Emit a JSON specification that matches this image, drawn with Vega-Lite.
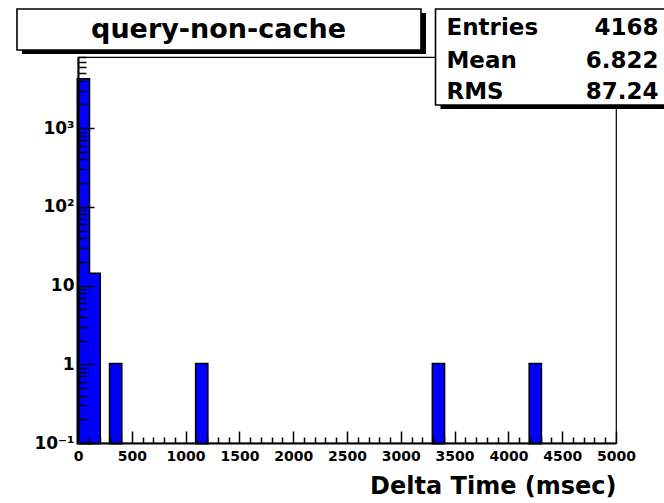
{
  "$schema": "https://vega.github.io/schema/vega-lite/v6.json",
  "width": 538,
  "height": 386,
  "autosize": {"type": "none"},
  "padding": {"left": 78, "top": 57, "right": 48, "bottom": 60},
  "background": "white",
  "config": {
    "view": {"stroke": "black", "strokeWidth": 1.2},
    "font": "DejaVu Sans",
    "text": {"font": "DejaVu Sans", "fontWeight": "bold", "color": "black"}
  },
  "datasets": {
    "bins": [
      {"lo": 0, "hi": 100, "count": 4150},
      {"lo": 100, "hi": 200, "count": 14},
      {"lo": 300, "hi": 400, "count": 1},
      {"lo": 1100, "hi": 1200, "count": 1},
      {"lo": 3300, "hi": 3400, "count": 1},
      {"lo": 4200, "hi": 4300, "count": 1}
    ],
    "pave": [{"title": "query-non-cache"}],
    "stats": [
      {"stat": "Entries", "value": "4168"},
      {"stat": "Mean", "value": "6.822"},
      {"stat": "RMS", "value": "87.24"}
    ]
  },
  "layer": [
    {
      "data": {"name": "bins"},
      "encoding": {
        "x": {
          "field": "lo",
          "type": "quantitative",
          "scale": {"domain": [0, 5000], "nice": false, "zero": false},
          "axis": {
            "values": [0,100,200,300,400,500,600,700,800,900,1000,1100,1200,1300,1400,1500,1600,1700,1800,1900,2000,2100,2200,2300,2400,2500,2600,2700,2800,2900,3000,3100,3200,3300,3400,3500,3600,3700,3800,3900,4000,4100,4200,4300,4400,4500,4600,4700,4800,4900,5000],
            "format": "d",
            "labelExpr": "datum.value % 500 == 0 ? datum.label : ''",
            "tickSize": {"condition": {"test": "datum.value % 500 == 0", "value": -12}, "value": -6},
            "tickColor": "black",
            "tickWidth": 1.5,
            "domainColor": "black",
            "domainWidth": 2,
            "grid": false,
            "labelFont": "DejaVu Sans",
            "labelFontWeight": "bold",
            "labelFontSize": 14,
            "labelColor": "black",
            "labelPadding": 18,
            "labelFlush": false,
            "labelOverlap": false,
            "title": "Delta Time (msec)",
            "titleFont": "DejaVu Sans",
            "titleFontWeight": "bold",
            "titleFontSize": 24,
            "titleColor": "black",
            "titleAnchor": "end",
            "titleAlign": "right",
            "titlePadding": 5,
            "zindex": 1
          }
        },
        "x2": {"field": "hi"},
        "y": {
          "field": "count",
          "type": "quantitative",
          "scale": {"type": "log", "domain": [0.1, 8000], "nice": false},
          "axis": {
            "values": [0.1,0.2,0.3,0.4,0.5,0.6,0.7,0.8,0.9,1,2,3,4,5,6,7,8,9,10,20,30,40,50,60,70,80,90,100,200,300,400,500,600,700,800,900,1000,2000,3000,4000,5000,6000,7000,8000],
            "labelExpr": "datum.value == 1000 ? '10³' : datum.value == 100 ? '10²' : datum.value == 10 ? '10' : datum.value == 1 ? '1' : datum.value == 0.1 ? '10⁻¹' : ''",
            "tickSize": {"condition": {"test": "datum.value == 0.1 || datum.value == 1 || datum.value == 10 || datum.value == 100 || datum.value == 1000", "value": -16}, "value": -8},
            "tickColor": "black",
            "tickWidth": 1.5,
            "domainColor": "black",
            "domainWidth": 2,
            "grid": false,
            "labelFont": "DejaVu Sans",
            "labelFontWeight": "bold",
            "labelFontSize": 17,
            "labelColor": "black",
            "labelPadding": 20,
            "labelFlush": false,
            "labelOverlap": false,
            "title": null,
            "zindex": 1
          }
        },
        "y2": {"datum": 0.1}
      },
      "layer": [
        {"mark": {"type": "bar", "fill": "#0000ff", "stroke": "black", "strokeWidth": 3}},
        {"mark": {"type": "bar", "fill": "#0000ff", "strokeWidth": 0}}
      ]
    },
    {
      "layer": [
        {
          "data": {"name": "pave"},
          "layer": [
            {
              "mark": {"type": "rect", "fill": "black", "xOffset": 5, "x2Offset": 5, "yOffset": 4, "y2Offset": 4},
              "encoding": {
                "x": {"datum": 0.0256, "type": "quantitative", "scale": {"domain": [0.11747, 0.927711], "nice": false, "zero": false}, "axis": null},
                "x2": {"datum": 0.634},
                "y": {"datum": 0.9821, "type": "quantitative", "scale": {"domain": [0.119284, 0.88668], "nice": false, "zero": false}, "axis": null},
                "y2": {"datum": 0.9006}
              }
            },
            {
              "mark": {"type": "rect", "fill": "white", "stroke": "black", "strokeWidth": 1.6},
              "encoding": {
                "x": {"datum": 0.0256, "type": "quantitative", "scale": {"domain": [0.11747, 0.927711], "nice": false, "zero": false}, "axis": null},
                "x2": {"datum": 0.634},
                "y": {"datum": 0.9821, "type": "quantitative", "scale": {"domain": [0.119284, 0.88668], "nice": false, "zero": false}, "axis": null},
                "y2": {"datum": 0.9006}
              }
            },
            {
              "mark": {"type": "text", "fontSize": 27, "align": "center", "baseline": "alphabetic"},
              "encoding": {
                "x": {"datum": 0.3291, "type": "quantitative", "scale": {"domain": [0.11747, 0.927711], "nice": false, "zero": false}, "axis": null},
                "y": {"datum": 0.9235, "type": "quantitative", "scale": {"domain": [0.119284, 0.88668], "nice": false, "zero": false}, "axis": null},
                "text": {"field": "title"}
              }
            }
          ]
        },
        {
          "data": {"name": "stats"},
          "layer": [
            {
              "transform": [{"filter": "datum.stat == 'Entries'"}],
              "mark": {"type": "rect", "fill": "black", "xOffset": 5, "x2Offset": 5, "yOffset": 4, "y2Offset": 4},
              "encoding": {
                "x": {"datum": 0.6559, "type": "quantitative", "scale": {"domain": [0.11747, 0.927711], "nice": false, "zero": false}, "axis": null},
                "x2": {"datum": 1.01},
                "y": {"datum": 0.9821, "type": "quantitative", "scale": {"domain": [0.119284, 0.88668], "nice": false, "zero": false}, "axis": null},
                "y2": {"datum": 0.7913}
              }
            },
            {
              "transform": [{"filter": "datum.stat == 'Entries'"}],
              "mark": {"type": "rect", "fill": "white", "stroke": "black", "strokeWidth": 1.6},
              "encoding": {
                "x": {"datum": 0.6559, "type": "quantitative", "scale": {"domain": [0.11747, 0.927711], "nice": false, "zero": false}, "axis": null},
                "x2": {"datum": 1.01},
                "y": {"datum": 0.9821, "type": "quantitative", "scale": {"domain": [0.119284, 0.88668], "nice": false, "zero": false}, "axis": null},
                "y2": {"datum": 0.7913}
              }
            },
            {
              "transform": [{"filter": "datum.stat == 'Entries'"}],
              "encoding": {
                "y": {"datum": 0.9304, "type": "quantitative", "scale": {"domain": [0.119284, 0.88668], "nice": false, "zero": false}, "axis": null}
              },
              "layer": [
                {
                  "mark": {"type": "text", "fontSize": 23, "align": "left", "baseline": "alphabetic"},
                  "encoding": {
                    "x": {"datum": 0.6724, "type": "quantitative", "scale": {"domain": [0.11747, 0.927711], "nice": false, "zero": false}, "axis": null},
                    "text": {"field": "stat"}
                  }
                },
                {
                  "mark": {"type": "text", "fontSize": 23, "align": "right", "baseline": "alphabetic"},
                  "encoding": {
                    "x": {"datum": 0.9917, "type": "quantitative", "scale": {"domain": [0.11747, 0.927711], "nice": false, "zero": false}, "axis": null},
                    "text": {"field": "value"}
                  }
                }
              ]
            },
            {
              "transform": [{"filter": "datum.stat == 'Mean'"}],
              "encoding": {
                "y": {"datum": 0.8642, "type": "quantitative", "scale": {"domain": [0.119284, 0.88668], "nice": false, "zero": false}, "axis": null}
              },
              "layer": [
                {
                  "mark": {"type": "text", "fontSize": 23, "align": "left", "baseline": "alphabetic"},
                  "encoding": {
                    "x": {"datum": 0.6724, "type": "quantitative", "scale": {"domain": [0.11747, 0.927711], "nice": false, "zero": false}, "axis": null},
                    "text": {"field": "stat"}
                  }
                },
                {
                  "mark": {"type": "text", "fontSize": 23, "align": "right", "baseline": "alphabetic"},
                  "encoding": {
                    "x": {"datum": 0.9917, "type": "quantitative", "scale": {"domain": [0.11747, 0.927711], "nice": false, "zero": false}, "axis": null},
                    "text": {"field": "value"}
                  }
                }
              ]
            },
            {
              "transform": [{"filter": "datum.stat == 'RMS'"}],
              "encoding": {
                "y": {"datum": 0.8022, "type": "quantitative", "scale": {"domain": [0.119284, 0.88668], "nice": false, "zero": false}, "axis": null}
              },
              "layer": [
                {
                  "mark": {"type": "text", "fontSize": 23, "align": "left", "baseline": "alphabetic"},
                  "encoding": {
                    "x": {"datum": 0.6724, "type": "quantitative", "scale": {"domain": [0.11747, 0.927711], "nice": false, "zero": false}, "axis": null},
                    "text": {"field": "stat"}
                  }
                },
                {
                  "mark": {"type": "text", "fontSize": 23, "align": "right", "baseline": "alphabetic"},
                  "encoding": {
                    "x": {"datum": 0.9917, "type": "quantitative", "scale": {"domain": [0.11747, 0.927711], "nice": false, "zero": false}, "axis": null},
                    "text": {"field": "value"}
                  }
                }
              ]
            }
          ]
        }
      ]
    }
  ],
  "resolve": {"scale": {"x": "independent", "y": "independent"}}
}
